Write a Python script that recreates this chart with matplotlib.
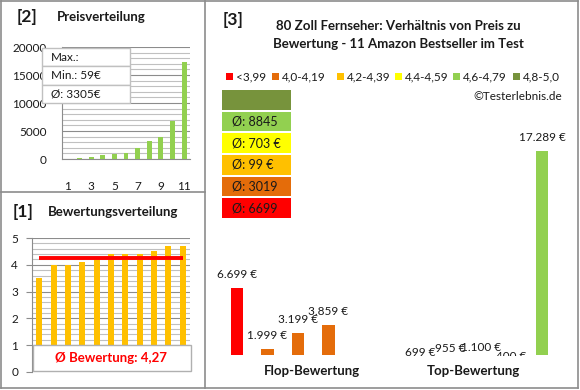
"""
Overview chart: price and rating distribution of 80 inch TVs.
"""
import matplotlib
matplotlib.use("Agg")
import matplotlib.pyplot as plt
from matplotlib.patches import Rectangle
from matplotlib.lines import Line2D
from matplotlib.transforms import Bbox, TransformedBbox
import numpy as np

W, H = 580, 390

# [2] price distribution (sorted, euro)
prices = [59, 99, 400, 699, 955, 1100, 1999, 3199, 3859, 6699, 17289]
price_ticks = [1, 3, 5, 7, 9, 11]
price_info = ["Max.:", "Min.: 59€", "Ø: 3305€"]

# [1] rating distribution
ratings = [3.5, 4.0, 4.0, 4.1, 4.2, 4.4, 4.4, 4.4, 4.5, 4.7, 4.7]
rating_avg = 4.27
rating_avg_label = "Ø Bewertung: 4,27"

# [3] price vs rating
title_lines = ["80 Zoll Fernseher: Verhältnis von Preis zu",
               "Bewertung - 11 Amazon Bestseller im Test"]
legend_labels = ["<3,99", "4,0-4,19", "4,2-4,39", "4,4-4,59", "4,6-4,79", "4,8-5,0"]
legend_colors = ["#FF0000", "#E46C0A", "#FFC000", "#FFFF00", "#92D050", "#77933C"]
avg_labels = ["Ø: 6699", "Ø: 3019", "Ø: 99 €", "Ø: 703 €", "Ø: 8845", ""]  # bottom -> top
groups = ["Flop-Bewertung", "Top-Bewertung"]
flop_prices = [6699, 1999, 3199, 3859]
flop_colors = ["#FF0000", "#E46C0A", "#E46C0A", "#E46C0A"]
top_prices = [699, 955, 1100, 400, 17289]
top_colors = ["#92D050"] * 5

GRID_MAJOR = "#8c8c8c"
GRID_MINOR = "#c0c0c0"
BORDER = "#8c8c8c"
TEXT = "#1a1a1a"


def px_rect(l, t, r, b):
    """Pixel box (left, top, right, bottom) -> figure fraction rect."""
    return [l / W, 1 - b / H, (r - l) / W, (b - t) / H]


def fx(x):
    return x / W


def fy(y):
    return 1 - y / H


def fig_line(fig, x0, y0, x1, y1):
    fig.add_artist(Line2D([fx(x0), fx(x1)], [fy(y0), fy(y1)],
                          color=BORDER, lw=1.2, transform=fig.transFigure))


def fmt_euro(v):
    return f"{v:,}".replace(",", ".") + " €"


plt.rcParams['font.family'] = ['Lato', 'DejaVu Sans']
fig = plt.figure(figsize=(W / 100, H / 100), dpi=100)

# panel frames
fig_line(fig, 1, 1, 578, 1)
fig_line(fig, 1, 388, 578, 388)
fig_line(fig, 1, 1, 1, 388)
fig_line(fig, 578, 1, 578, 388)
fig_line(fig, 205, 1, 205, 388)
fig_line(fig, 1, 192, 205, 192)

# ---- [2] Preisverteilung
fig.text(fx(17), fy(17), "[2]", fontsize=12.5, fontweight='bold', color=TEXT, va='center')
fig.text(fx(57), fy(17), "Preisverteilung", fontsize=9.5, fontweight='bold', color=TEXT, va='center')

ax = fig.add_axes(px_rect(62, 47, 190, 159))
pos = np.arange(1, len(prices) + 1)
ax.bar(pos, prices, width=0.42, color="#92D050", zorder=3)
ax.set_xlim(0.5, len(prices) + 0.5)
ax.set_ylim(0, 20000)
ax.set_yticks(np.arange(0, 20001, 5000))
ax.set_yticks(np.arange(0, 20001, 1000), minor=True)
ax.grid(which='major', axis='y', color=GRID_MAJOR, lw=0.8, zorder=1)
ax.grid(which='minor', axis='y', color=GRID_MINOR, lw=0.8, zorder=1)
ax.set_xticks(price_ticks)
ax.tick_params(axis='x', length=0, pad=16, labelsize=8.5, colors=TEXT)
ax.tick_params(axis='y', which='both', length=0, pad=11, labelsize=8.5, colors=TEXT)
for side in ['top', 'right']:
    ax.spines[side].set_visible(False)
for side in ['left', 'bottom']:
    ax.spines[side].set_color(GRID_MAJOR)

# info box on top of the axis labels
row_top = 48
for label in price_info:
    fig.add_artist(Rectangle((fx(42), fy(row_top + 18.3)), fx(130) - fx(42), 18.3 / H,
                             transform=fig.transFigure, facecolor='white',
                             edgecolor='#c0c0c0', lw=1, zorder=5))
    fig.text(fx(51), fy(row_top + 9.5), label, fontsize=8.5, color=TEXT, va='center', zorder=6)
    row_top += 18.3

# ---- [1] Bewertungsverteilung
fig.text(fx(13), fy(212), "[1]", fontsize=12.5, fontweight='bold', color=TEXT, va='center')
fig.text(fx(48), fy(212), "Bewertungsverteilung", fontsize=9.5, fontweight='bold', color=TEXT, va='center')

ax = fig.add_axes(px_rect(32, 238, 190, 372))
pos = np.arange(1, len(ratings) + 1)
ax.bar(pos, ratings, width=0.42, color="#FFC000", zorder=3)
ax.plot(pos, [rating_avg] * len(pos), color='#FF0000', lw=2.8, zorder=4,
        solid_capstyle='butt')
ax.set_xlim(0.5, len(ratings) + 0.5)
ax.set_ylim(0, 5)
ax.set_yticks(np.arange(0, 6, 1))
ax.set_yticks(np.arange(0, 5.01, 0.2), minor=True)
ax.grid(which='major', axis='y', color=GRID_MAJOR, lw=0.8, zorder=1)
ax.grid(which='minor', axis='y', color=GRID_MINOR, lw=0.8, zorder=1)
ax.set_xticks([])
ax.tick_params(axis='y', which='major', length=4, color=GRID_MAJOR, pad=6,
               labelsize=8.5, labelcolor=TEXT)
ax.tick_params(axis='y', which='minor', length=0)
for side in ['top', 'right', 'bottom']:
    ax.spines[side].set_visible(False)
ax.spines['left'].set_color(GRID_MAJOR)
ax.add_patch(Rectangle((0.005, 0.005), 1.0, 0.2, transform=ax.transAxes,
                       facecolor='white', edgecolor='#b0b0b0', lw=1, zorder=5,
                       clip_on=False))
ax.text(0.5, 0.105, rating_avg_label, transform=ax.transAxes, ha='center', va='center',
        color='#FF0000', fontsize=9.5, fontweight='bold', zorder=6)

# ---- [3] Preis / Bewertung
fig.text(fx(223), fy(20), "[3]", fontsize=12.5, fontweight='bold', color=TEXT, va='center')
for i, line in enumerate(title_lines):
    fig.text(fx(398), fy(26 + 18.5 * i), line, fontsize=9.5, fontweight='bold',
             color=TEXT, ha='center', va='center')

legend_x = [226, 272, 337, 395, 453, 513]
for x0, label, color in zip(legend_x, legend_labels, legend_colors):
    fig.add_artist(Rectangle((fx(x0), fy(80)), 7 / W, 7 / H, transform=fig.transFigure,
                             facecolor=color, edgecolor='none'))
    fig.text(fx(x0 + 10), fy(76.5), label, fontsize=8.5, color=TEXT, va='center')

fig.text(fx(562), fy(97), "©Testerlebnis.de", fontsize=8.5, color=TEXT, ha='right', va='center')

# flop / top bars (transparent background so the boxes above stay visible)
ax = fig.add_axes(px_rect(206.5, 116, 572.5, 355))
ax.patch.set_visible(False)
flop_x = np.arange(len(flop_prices))
top_x = np.arange(len(top_prices)) + len(flop_prices) + 2
bar_x = np.concatenate([flop_x, top_x])
bar_vals = flop_prices + top_prices
ax.bar(bar_x, bar_vals, width=0.4, color=flop_colors + top_colors, zorder=2)
ax.set_xlim(-1, top_x[-1] + 1)
ax.set_ylim(1500, 20000)
clip = TransformedBbox(Bbox.from_extents(0, -0.006, 1, 1.2), ax.transAxes)
for x, v in zip(bar_x, bar_vals):
    a = ax.annotate(fmt_euro(v), (x, v), xytext=(0, 9.4), textcoords='offset points',
                    ha='center', va='center', fontsize=8.5, color=TEXT,
                    annotation_clip=False)
    a.set_clip_box(clip)
ax.set_xticks([2.45, 7.75], groups, fontweight='bold', fontsize=9.5, color=TEXT)
ax.tick_params(axis='x', length=0, pad=7)
ax.set_yticks([])
for side in ax.spines:
    ax.spines[side].set_visible(False)

# average boxes per rating class
ax = fig.add_axes(px_rect(222, 89, 291, 219))
rows = np.arange(len(avg_labels))
ax.barh(rows, [1] * len(rows), height=0.9, color=legend_colors)
for r, label in zip(rows, avg_labels):
    ax.text(0.15, r, label, fontsize=9, color=TEXT, va='center')
ax.set_xlim(0, 1)
ax.set_ylim(-0.5, len(rows) - 0.5)
ax.axis('off')

fig.savefig("out.png", dpi=100)
